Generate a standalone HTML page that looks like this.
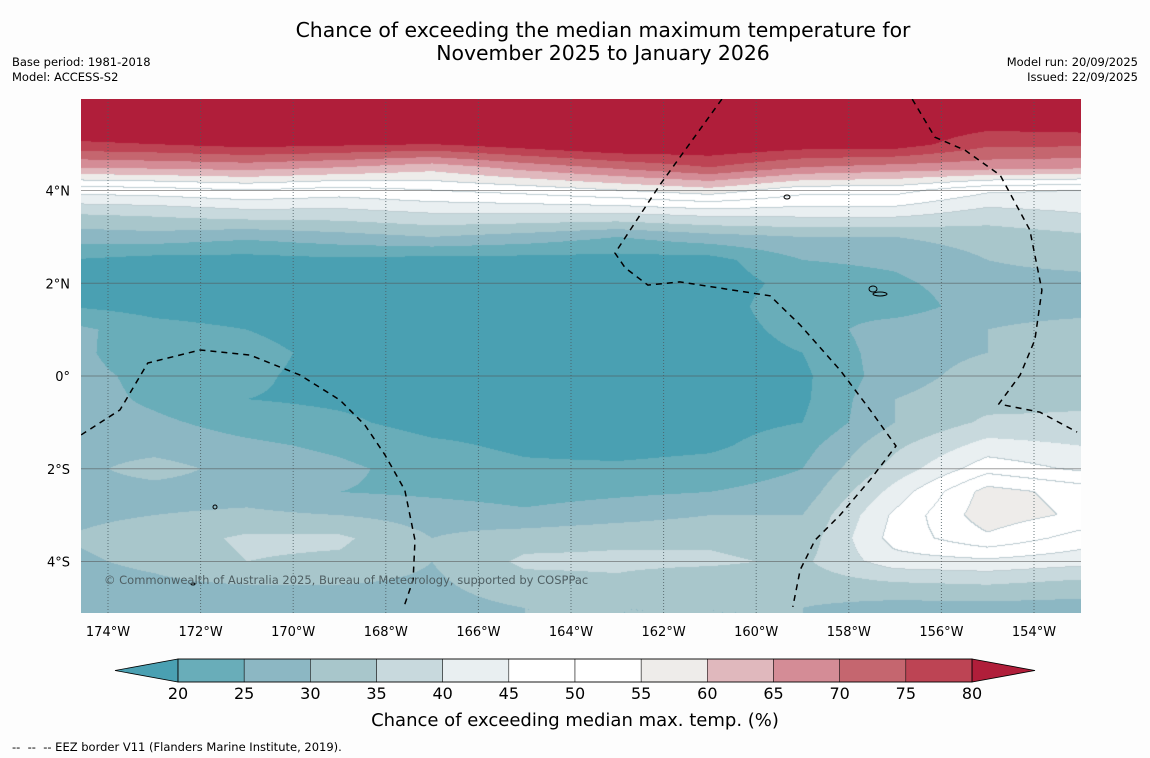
<!DOCTYPE html>
<html><head><meta charset="utf-8"><style>
body{margin:0;background:#fdfdfd;width:1150px;height:758px;position:relative;font-family:"DejaVu Sans","Liberation Sans",sans-serif;overflow:hidden}
.t{position:absolute;color:#000}
</style></head><body>
<div class="t" style="left:0;width:1206px;text-align:center;top:19px;font-size:20.4px;line-height:23px">Chance of exceeding the median maximum temperature for<br>November 2025 to January 2026</div>
<div class="t" style="left:12px;top:55px;font-size:11.5px;line-height:15px">Base period: 1981-2018<br>Model: ACCESS-S2</div>
<div class="t" style="right:12px;top:55px;font-size:11.5px;line-height:15px;text-align:right">Model run: 20/09/2025<br>Issued: 22/09/2025</div>
<div class="t" style="left:12px;top:740px;font-size:11.5px">--&nbsp; --&nbsp; -- EEZ border V11 (Flanders Marine Institute, 2019).</div>
<canvas id="cv" width="1000" height="514" style="position:absolute;left:81px;top:99px"></canvas>
<svg id="sv" width="1150" height="758" style="position:absolute;left:0;top:0;font-family:'DejaVu Sans','Liberation Sans',sans-serif"></svg>
<script>
const lons=[-175,-173,-171,-169,-167,-165,-163,-161,-159,-157,-155,-153];
const lats=[6,5.5,5,4.5,4,3.5,3,2.5,2,1.5,1,0.5,0,-0.5,-1,-1.5,-2,-2.5,-3,-3.5,-4,-4.5,-5,-5.5];
const grid=[
[86,86,86,86,86,86,86,86,86,86,86,86],
[85,86,86,86,86,86,86,86,86,85,83,84],
[79,80,82,81,80,83,86,85,83,83,76,76],
[65,66,67,65,62,67,71,75,70,68,67,66],
[47,48,50,48,50,52,55,58,52,52,46,45],
[35,36,38,38,40,40,40,42,42,42,38,40],
[27,28,26,28,30,28,25,28,30,30,32,34],
[20,18,18,19,18,18,18,18,25,26,30,32],
[18,17,17,17,17,17,17,17,22,24,28,28],
[20,18,17,17,17,17,17,17,24,22,28,28],
[27,22,20,17,17,17,17,17,22,28,30,32],
[28,20,22,18,17,17,17,17,20,28,30,32],
[28,23,21,18,17,17,17,17,19,28,32,33],
[28,24,20,19,18,17,17,17,19,30,33,34],
[28,26,23,21,18,18,18,18,20,30,36,36],
[28,28,26,24,21,19,18,19,23,34,42,40],
[28,32,28,26,23,21,21,22,25,37,48,44],
[28,28,28,25,24,23,24,25,27,42,57,53],
[29,30,31,30,28,26,28,30,30,46,58,54],
[30,32,36,36,30,33,34,34,32,47,54,48],
[29,31,35,34,30,36,36,36,34,43,44,42],
[28,29,30,30,29,33,34,31,32,34,35,33],
[26,25,28,28,28,30,30,30,30,28,28,28],
[26,25,28,28,28,30,30,30,30,28,28,28]];
const levels=[20,25,30,35,40,45,50,55,60,65,70,75,80];
const colors=["#4aa0b2","#69adb9","#8cb7c3","#a8c6cb","#c8d9dd","#e9eff1","#ffffff","#ffffff","#eeecea","#e0b8bd","#d48c96","#c5666f","#bd4454","#b01e3a"];
const xTicks=[-174,-172,-170,-168,-166,-164,-162,-160,-158,-156,-154];
const yTicks=[4,2,0,-2,-4];
const eez1Lon=[-174.58,-173.74,-173.14,-172.01,-170.93,-169.85,-168.99,-168.45,-168.02,-167.59,-167.37,-167.41,-167.61];
const eez1Lat=[-1.27,-0.73,0.28,0.56,0.45,0.02,-0.52,-1.06,-1.70,-2.46,-3.54,-4.40,-4.98];
const eez2Lon=[-160.74,-162.08,-163.05,-162.83,-162.34,-161.65,-159.70,-159.05,-158.19,-157.54,-156.98,-157.54,-158.19,-158.73,-159.05,-159.21];
const eez2Lat=[5.97,4.12,2.65,2.33,1.96,2.03,1.73,1.10,0.13,-0.73,-1.51,-2.24,-3.0,-3.54,-4.18,-4.98];
const eez3Lon=[-156.63,-156.14,-155.49,-154.73,-154.09,-153.83,-153.98,-154.30,-154.78];
const eez3Lat=[5.97,5.15,4.87,4.33,3.15,1.85,0.78,0.02,-0.63];
const eez4Lon=[-154.63,-153.87,-153.07];
const eez4Lat=[-0.63,-0.78,-1.21];

const PX=81,PY=99,PW=1000,PH=514;
const X=lon=>108+(lon+174)*46.3;
const Y=lat=>376-lat*46.375;
const iX=x=>-174+(x-108)/46.3, iY=y=>(376-y)/46.375;
function val(lon,lat){
  let fi=(lon-lons[0])/(lons[1]-lons[0]); fi=Math.max(0,Math.min(lons.length-1.0001,fi));
  let fj=(lats[0]-lat)/(lats[0]-lats[1]); fj=Math.max(0,Math.min(lats.length-1.0001,fj));
  const i=Math.floor(fi),j=Math.floor(fj),a=fi-i,b=fj-j;
  return grid[j][i]*(1-a)*(1-b)+grid[j][i+1]*a*(1-b)+grid[j+1][i]*(1-a)*b+grid[j+1][i+1]*a*b;
}
function band(v){let k=0;while(k<levels.length&&v>=levels[k])k++;return k;}
const rgb=colors.map(c=>[parseInt(c.slice(1,3),16),parseInt(c.slice(3,5),16),parseInt(c.slice(5,7),16)]);
const cv=document.getElementById('cv'),ctx=cv.getContext('2d');
const img=ctx.createImageData(PW,PH);
const bands=new Uint8Array(PW*PH);
for(let y=0;y<PH;y++)for(let x=0;x<PW;x++){bands[y*PW+x]=band(val(iX(x+PX+0.5),iY(y+PY+0.5)));}
for(let y=0;y<PH;y++)for(let x=0;x<PW;x++){
  const k=bands[y*PW+x];let c=rgb[k];
  const r=x<PW-1?bands[y*PW+x+1]:k, d=y<PH-1?bands[(y+1)*PW+x]:k;
  if((r!==k||d!==k)&&(k>=5&&k<=8)) c=[190,205,210];
  const o=(y*PW+x)*4;img.data[o]=c[0];img.data[o+1]=c[1];img.data[o+2]=c[2];img.data[o+3]=255;}
ctx.putImageData(img,0,0);

const sv=document.getElementById('sv'),NS='http://www.w3.org/2000/svg';
function mk(tag,attrs,parent){const e=document.createElementNS(NS,tag);for(const k in attrs)e.setAttribute(k,attrs[k]);(parent||sv).appendChild(e);return e;}
const clip=mk('clipPath',{id:'pc'});mk('rect',{x:PX,y:PY,width:PW,height:PH},clip);
xTicks.forEach(t=>{
  const l=mk('line',{x1:X(t),x2:X(t),y1:PY,y2:PY+PH,stroke:'#4a5a60','stroke-width':1,'stroke-dasharray':'1,2',opacity:0.8});
  
  
  const tx=mk('text',{x:X(t),y:636,'text-anchor':'middle','font-size':13,fill:'#000'});
  tx.textContent=Math.abs(t)+'°W';
  
  
});
yTicks.forEach(t=>{
  const l=mk('line',{x1:PX,x2:PX+PW,y1:Y(t),y2:Y(t),stroke:'#555','stroke-width':1,opacity:0.55});
  
  
  const tx=mk('text',{x:70,y:Y(t)+5,'text-anchor':'end','font-size':13,fill:'#000'});
  tx.textContent=t===0?'0°':Math.abs(t)+'°'+(t>0?'N':'S');
  
  
});
[[eez1Lon,eez1Lat],[eez2Lon,eez2Lat],[eez3Lon,eez3Lat],[eez4Lon,eez4Lat]].forEach(([lo,la])=>{
  const d=lo.map((v,i)=>(i?'L':'M')+X(v).toFixed(1)+','+Y(la[i]).toFixed(1)).join(' ');
  const p=mk('path',{d:d,fill:'none',stroke:'#000','stroke-width':1.5,'stroke-dasharray':'6,5','clip-path':'url(#pc)'});
  
  
});
[[873,289,4,3],[787,197,3,2],[880,294,7,2],[215,507,2,2],[193,584,2,1]].forEach(e=>{
  const c=mk('ellipse',{cx:e[0],cy:e[1],rx:e[2],ry:e[3],fill:'none',stroke:'#000','stroke-width':1});
  
  
});
const cp=mk('text',{x:104,y:584,'font-size':11.5,fill:'#4f5f63'});
cp.textContent='© Commonwealth of Australia 2025, Bureau of Meteorology, supported by COSPPac';


const CB0=178,CB1=972,CBY=659,CBH=23,bw=(CB1-CB0)/(levels.length-1);
const lt=mk('polygon',{points:`${CB0},${CBY} ${CB0},${CBY+CBH} 115,${CBY+CBH/2}`,fill:colors[0],stroke:'#000','stroke-width':0.8});


const rt=mk('polygon',{points:`${CB1},${CBY} ${CB1},${CBY+CBH} 1035,${CBY+CBH/2}`,fill:colors[colors.length-1],stroke:'#000','stroke-width':0.8});


for(let i=0;i<levels.length-1;i++){
  const r=mk('rect',{x:CB0+i*bw,y:CBY,width:bw,height:CBH,fill:colors[i+1],stroke:'#000','stroke-width':0.5});
  
  
}
mk('rect',{x:CB0,y:CBY,width:CB1-CB0,height:CBH,fill:'none',stroke:'#000','stroke-width':0.8});
levels.forEach((v,i)=>{
  const tx=mk('text',{x:CB0+i*bw,y:699,'text-anchor':'middle','font-size':16,fill:'#000'});
  tx.textContent=v;
  
  
});
const ct=mk('text',{x:575,y:726,'text-anchor':'middle','font-size':18,fill:'#000'});
ct.textContent='Chance of exceeding median max. temp. (%)';


</script>
</body></html>
